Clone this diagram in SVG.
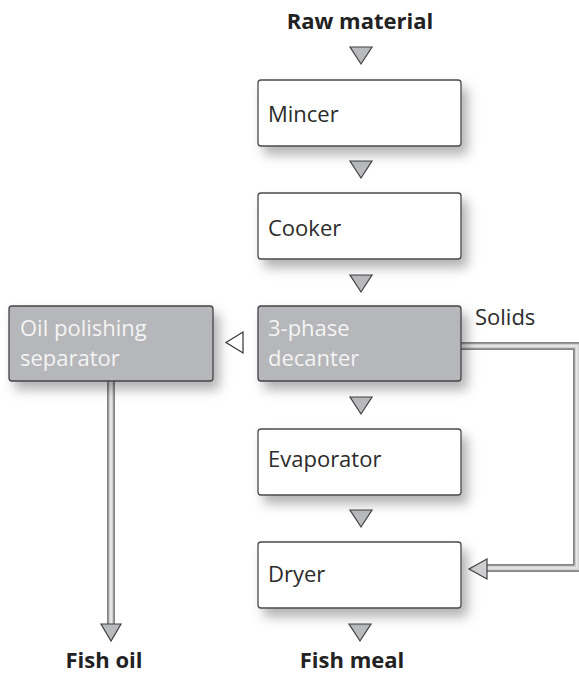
<svg xmlns="http://www.w3.org/2000/svg" width="579" height="673" viewBox="0 0 579 673">
<defs>
<filter id="sh" x="-20%" y="-30%" width="150%" height="180%">
<feDropShadow dx="6" dy="8" stdDeviation="6" flood-color="#000" flood-opacity="0.3"/>
</filter>
<style>
.box{fill:#fff;stroke:#4a4a4a;stroke-width:1.3}
.gbox{fill:#b6b7ba;stroke:#444;stroke-width:1.3}
.t{font-family:"Open Sans","Liberation Sans",sans-serif;font-size:22px;fill:#2b2b2b}
.tw{font-family:"Open Sans","Liberation Sans",sans-serif;font-size:22px;fill:#f4f4f4}
.tb{font-family:"Open Sans","Liberation Sans",sans-serif;font-size:22px;font-weight:bold;fill:#222}
.tri{fill:#b9babd;stroke:#404040;stroke-width:1.2;stroke-linejoin:miter}
.htri{fill:#fff;stroke:#333;stroke-width:1.2}
.p1{fill:none;stroke:#858585;stroke-width:8}
.p2{fill:none;stroke:#cfcfcf;stroke-width:4.5}
.p3{fill:none;stroke:#ececec;stroke-width:1.5}
</style>
</defs>
<g id="connectors">
<path class="p1" d="M461 346 H577 V568 H486"/>
<path class="p2" d="M461 346 H577 V568 H486"/>
<path class="p3" d="M461 346 H577 V568 H486"/>
<path class="p1" d="M111 381 V625"/>
<path class="p2" d="M111 381 V625"/>
<path class="p3" d="M111 381 V625"/>
<polygon class="tri" points="350,47 372,47 361,64"/>
<polygon class="tri" points="350,161 372,161 361,178"/>
<polygon class="tri" points="350,275 372,275 361,292"/>
<polygon class="tri" points="350,397 372,397 361,414"/>
<polygon class="tri" points="350,510 372,510 361,527"/>
<polygon class="tri" points="349,624 371,624 360,641"/>
<polygon class="tri" points="101,624 121,624 111,641"/>
<polygon class="htri" points="243,332 243,353 226,342.5"/>
<polygon class="tri" points="487,559 487,579 469,569" style="fill:#cfcfd1"/>
</g>
<g id="raw"><text class="tb" x="360" y="29" text-anchor="middle">Raw material</text></g>
<g id="mincer"><rect class="box" filter="url(#sh)" x="258" y="80" width="203" height="66" rx="3"/><text class="t" x="268" y="122">Mincer</text></g>
<g id="cooker"><rect class="box" filter="url(#sh)" x="258" y="193" width="203" height="66" rx="3"/><text class="t" x="268" y="236">Cooker</text></g>
<g id="decanter"><rect class="gbox" filter="url(#sh)" x="258" y="306" width="203" height="75" rx="3"/><text class="tw" x="268" y="336">3-phase</text><text class="tw" x="268" y="366">decanter</text></g>
<g id="oil"><rect class="gbox" filter="url(#sh)" x="9" y="306" width="204" height="75" rx="3"/><text class="tw" x="20" y="336">Oil polishing</text><text class="tw" x="20" y="366">separator</text></g>
<g id="solids"><text class="t" x="475" y="325">Solids</text></g>
<g id="evaporator"><rect class="box" filter="url(#sh)" x="258" y="429" width="203" height="66" rx="3"/><text class="t" x="268" y="467">Evaporator</text></g>
<g id="dryer"><rect class="box" filter="url(#sh)" x="258" y="542" width="203" height="66" rx="3"/><text class="t" x="268" y="582">Dryer</text></g>
<g id="fishmeal"><text class="tb" x="352" y="668" text-anchor="middle">Fish meal</text></g>
<g id="fishoil"><text class="tb" x="104" y="668" text-anchor="middle">Fish oil</text></g>
</svg>
